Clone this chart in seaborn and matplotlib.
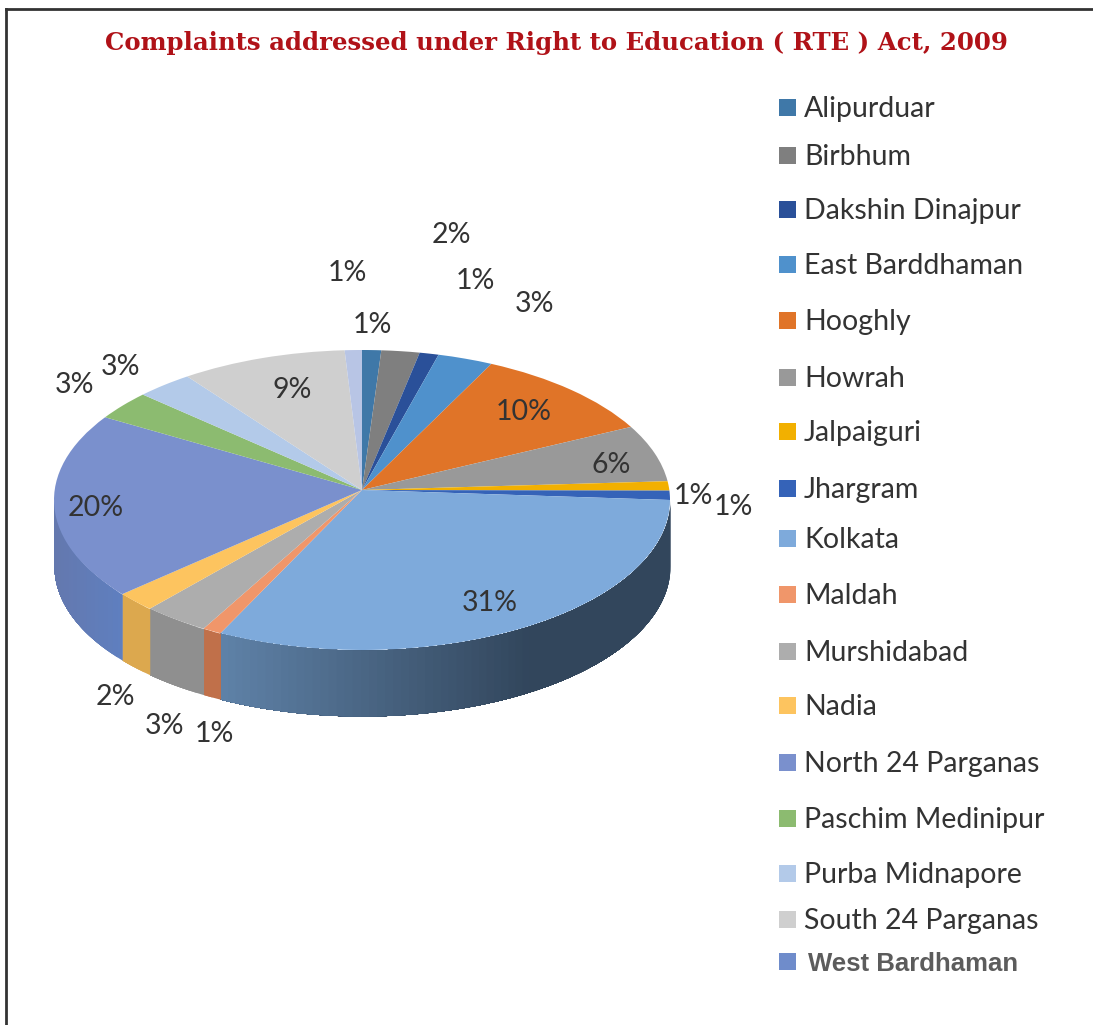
import numpy as np
import matplotlib
matplotlib.use("Agg")
import matplotlib.pyplot as plt
from matplotlib.colors import to_rgb
from matplotlib.lines import Line2D
from matplotlib.patches import Rectangle
import seaborn as sns

TITLE = "Complaints addressed under Right to Education ( RTE ) Act, 2009"
districts = ["Alipurduar", "Birbhum", "Dakshin Dinajpur", "East Barddhaman", "Hooghly", "Howrah",
             "Jalpaiguri", "Jhargram", "Kolkata", "Maldah", "Murshidabad", "Nadia",
             "North 24 Parganas", "Paschim Medinipur", "Purba Midnapore", "South 24 Parganas",
             "West Bardhaman"]
shares = [1.0, 2.0, 1.0, 2.9, 10.0, 6.1, 1.0, 1.0, 32.6, 1.0, 3.5, 2.1, 20.1, 3.1, 3.0, 8.7, 0.9]
share_labels = ["1%", "2%", "1%", "3%", "10%", "6%", "1%", "1%", "31%", "1%", "3%", "2%",
                "20%", "3%", "3%", "9%", "1%"]
slice_colors = ["#3f78a8", "#7f7f7f", "#2a5099", "#4f91cc", "#e07428", "#999999", "#f2b000", "#3563b8",
                "#7eaadb", "#f0966a", "#adadad", "#fdc45f", "#7a90cd", "#8cbb70", "#b3cae9", "#cfcfcf",
                "#b8c5e5"]
legend_colors = slice_colors[:-1] + ["#6f8ccb"]
wall_colors = {8: ("#32465c", "#5f82a8"), 9: ("#c0704a", "#c0704a"), 10: ("#8f8f8f", "#8f8f8f"),
               11: ("#dca84e", "#dca84e"), 12: ("#5f7fbf", "#6478ae")}

# layout, in reference pixels
W, H = 1093, 1025
CX, CY, RX, RY, APEX_UP, DEPTH = 362, 500, 308, 150, 10, 66
label_px = [(372, 325), (451, 235), (475, 281), (535, 304), (524, 412), (611, 465), (693, 496), (733, 507),
            (490, 603), (214, 734), (164, 726), (115, 697), (96, 508), (74, 385), (121, 367), (292, 390),
            (347, 273)]
legend_base = [117, 165, 219, 274, 330, 387, 441, 498, 548, 604, 661, 715, 772, 828, 883, 929, 971]

sns.set_theme(style="white")
plt.rcParams["font.family"] = ["Lato", "DejaVu Sans"]
palette = sns.color_palette(slice_colors)

fig = plt.figure(figsize=(W / 100, H / 100), dpi=100, facecolor="white")
ax = fig.add_axes([0, 0, 1, 1])
wedges, _ = ax.pie(shares, colors=palette, startangle=90, counterclock=False, radius=1,
                   wedgeprops=dict(linewidth=0), normalize=True)
ax.set_aspect("auto")
ax.set_xlim(-CX / RX, (W - CX) / RX)
ax.set_ylim((CY - H) / RY, CY / RY)
ax.set_axis_off()
for w in wedges:
    w.set_zorder(3)
    verts = w.get_path().vertices
    verts[np.hypot(verts[:, 0], verts[:, 1]) < 1e-6, 1] += APEX_UP / RY

# side wall of the disc, derived from the shares; each strip overpaints the rest of its slice
edges = np.cumsum([0] + shares) / sum(shares) * 360
d = DEPTH / RY
for i, (dark, light) in wall_colors.items():
    t0, t1 = max(edges[i], 90), min(edges[i + 1], 270)
    ts = np.linspace(t0, t1, max(2, int((t1 - t0) / 1.5)) + 1)
    c_dark, c_light = np.array(to_rgb(dark)), np.array(to_rgb(light))
    x_lo, x_hi = np.sin(np.radians(t0)), np.sin(np.radians(t1))
    for a in ts[:-1]:
        tt = np.radians(np.linspace(a, t1, 60))
        x, y = np.sin(tt), np.cos(tt)
        mid = np.sin(np.radians(a))
        if i == 8:
            f = np.clip(0.55 - mid, 0, 1)
        else:
            f = (mid - x_lo) / (x_hi - x_lo)
        col = c_dark + (c_light - c_dark) * f
        order = np.argsort(x)
        ax.fill_between(x[order], y[order] - d, y[order], color=col, linewidth=0, zorder=2)

# overlay in pixel coordinates for all texts and the key
ov = fig.add_axes([0, 0, 1, 1], facecolor="none")
ov.set_xlim(0, W)
ov.set_ylim(H, 0)
ov.set_axis_off()

ov.text(556, 43, TITLE, color="#b01218", fontsize=17.6, fontweight="bold", family="DejaVu Serif",
        ha="center", va="center")

for lab, (x, y) in zip(share_labels, label_px):
    ov.text(x, y, lab, color="#333333", fontsize=20.5, ha="center", va="center", family="Lato", zorder=5)

for name, base, col in zip(districts, legend_base, legend_colors):
    ov.add_patch(Rectangle((779, base - 18), 17, 17, facecolor=col, edgecolor="none"))
    if name == "West Bardhaman":
        ov.text(808, base, name, color="#5c5c5c", fontsize=18.5, family="Liberation Sans",
                fontweight="bold", va="baseline", ha="left")
    else:
        ov.text(804, base, name, color="#333333", fontsize=20.5, va="baseline", ha="left", family="Lato")

# picture frame (left and top only remain in the crop)
for (xs, ys) in [((6, 6), (9, H)), ((6, W), (9, 9))]:
    ov.add_line(Line2D(xs, ys, color="#333333", linewidth=2.0, solid_capstyle="projecting"))

fig.savefig("out.png", dpi=100, facecolor="white")
